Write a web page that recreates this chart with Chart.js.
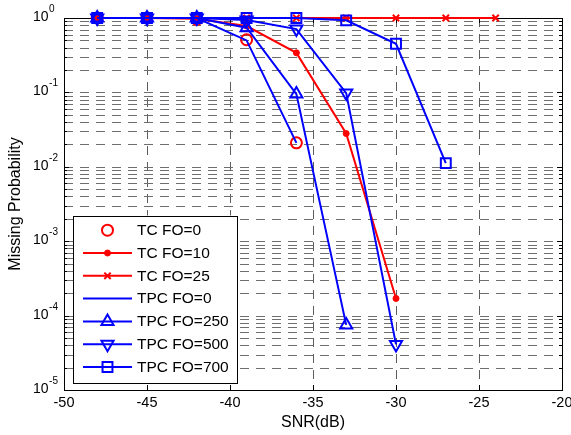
<!DOCTYPE html>
<html>
<head>
<meta charset="utf-8">
<script src="https://cdn.jsdelivr.net/npm/chart.js@4/dist/chart.umd.min.js"></script>
<style>
  html, body { margin: 0; padding: 0; background: #ffffff; }
  #wrap { width: 571px; height: 435px; }
</style>
</head>
<body>
<div id="wrap"><canvas id="c" width="571" height="435"></canvas></div>
<script>
// ---- data ----
const snr = [-48, -45, -42, -39, -36, -33, -30, -27, -24];
const tcFo0    = [1, 1, 0.96, 0.51, 0.021];
const tcFo10   = [1, 1, 0.98, 0.78, 0.34, 0.028, 0.00017];
const tcFo25   = [1, 1, 1, 1, 1, 1, 1, 1, 1];
const tpcFo0   = [1, 1, 1, 0.5, 0.021];
const tpcFo250 = [1, 1, 1, 0.74, 0.095, 0.000075];
const tpcFo500 = [1, 1, 1, 0.94, 0.71, 0.098, 0.000041];
const tpcFo700 = [1, 1, 1, 1, 1, 0.93, 0.45, 0.0112];

const seriesNames = ['TC FO=0', 'TC FO=10', 'TC FO=25', 'TPC FO=0', 'TPC FO=250', 'TPC FO=500', 'TPC FO=700'];
const xTickValues = [-50, -45, -40, -35, -30, -25, -20];
const yExponents = [0, -1, -2, -3, -4, -5];
const yMinorFactors = [2, 3, 4, 5, 6, 7, 8, 9];
const xTitle = 'SNR(dB)';
const yTitle = 'Missing Probability';

const RED = '#ff0000', BLUE = '#0000ff';
const FONT = 'Arial, "Liberation Sans", Helvetica, sans-serif';

function pts(vals) { return vals.map((v, i) => ({ x: snr[i], y: v })); }

const styles = [
  { color: RED,  line: false, pointStyle: 'circle',   r: 5.5, fill: false, bw: 2 },
  { color: RED,  line: true,  pointStyle: 'circle',   r: 3,   fill: true,  bw: 1 },
  { color: RED,  line: true,  pointStyle: 'crossRot', r: 4.5, fill: false, bw: 2 },
  { color: BLUE, line: true,  pointStyle: false,      r: 0,   fill: false, bw: 2 },
  { color: BLUE, line: true,  pointStyle: 'triangle', r: 7,   fill: false, bw: 2, rot: 0 },
  { color: BLUE, line: true,  pointStyle: 'triangle', r: 7,   fill: false, bw: 2, rot: 180 },
  { color: BLUE, line: true,  pointStyle: 'rect',     r: 7,   fill: false, bw: 2 }
];
const seriesData = [tcFo0, tcFo10, tcFo25, tpcFo0, tpcFo250, tpcFo500, tpcFo700];

const datasets = seriesData.map((vals, i) => {
  const s = styles[i];
  return {
    label: seriesNames[i],
    data: pts(vals),
    borderColor: s.color,
    backgroundColor: s.fill ? s.color : 'rgba(0,0,0,0)',
    borderWidth: 2,
    showLine: s.line,
    pointStyle: s.pointStyle,
    pointRadius: s.r,
    pointHoverRadius: s.r,
    pointBorderWidth: s.bw,
    pointBorderColor: s.color,
    pointBackgroundColor: s.fill ? s.color : 'rgba(0,0,0,0)',
    pointRotation: s.rot || 0,
    tension: 0,
    clip: false,
    order: 10 - i
  };
});

// y ticks: 1..9 x 10^e
const yTickValues = [];
yExponents.slice().reverse().forEach(e => {
  if (e === 0) { yTickValues.push(1); return; }
  yTickValues.push(Math.pow(10, e));
  yMinorFactors.forEach(f => yTickValues.push(f * Math.pow(10, e)));
});

const matlabAxes = {
  id: 'matlabAxes',
  beforeDatasetsDraw(chart) {
    const { ctx, chartArea: a, scales: { x, y } } = chart;
    ctx.save();
    // vertical grid
    ctx.setLineDash([9, 7]);
    ctx.lineWidth = 0.8;
    ctx.strokeStyle = '#333333';
    xTickValues.forEach(v => {
      const px = Math.round(x.getPixelForValue(v)) + 0.5;
      if (px <= a.left + 1 || px >= a.right - 1) return;
      ctx.beginPath(); ctx.moveTo(px, a.top); ctx.lineTo(px, a.bottom); ctx.stroke();
    });
    // horizontal grid
    ctx.lineWidth = 1;
    ctx.strokeStyle = '#6e6e6e';
    yTickValues.forEach(v => {
      const py = Math.round(y.getPixelForValue(v)) + 0.5;
      if (py <= a.top + 1 || py >= a.bottom - 1) return;
      ctx.beginPath(); ctx.moveTo(a.left, py); ctx.lineTo(a.right, py); ctx.stroke();
    });
    ctx.setLineDash([]);
    // box
    ctx.strokeStyle = '#000000';
    ctx.lineWidth = 1;
    ctx.strokeRect(Math.round(a.left) + 0.5, Math.round(a.top) + 0.5,
                   Math.round(a.right) - Math.round(a.left), Math.round(a.bottom) - Math.round(a.top));
    // tick marks (inside)
    ctx.beginPath();
    xTickValues.forEach(v => {
      const px = Math.round(x.getPixelForValue(v)) + 0.5;
      ctx.moveTo(px, a.bottom); ctx.lineTo(px, a.bottom - 5);
      ctx.moveTo(px, a.top); ctx.lineTo(px, a.top + 5);
    });
    yTickValues.forEach(v => {
      const py = Math.round(y.getPixelForValue(v)) + 0.5;
      const major = Math.abs(Math.log10(v) - Math.round(Math.log10(v))) < 1e-9;
      const len = major ? 5 : 3;
      ctx.moveTo(a.left, py); ctx.lineTo(a.left + len, py);
      ctx.moveTo(a.right, py); ctx.lineTo(a.right - len, py);
    });
    ctx.stroke();
    // y tick labels: 10^e
    ctx.fillStyle = '#000000';
    ctx.textBaseline = 'alphabetic';
    ctx.textAlign = 'left';
    yExponents.forEach(e => {
      const py = y.getPixelForValue(Math.pow(10, e));
      ctx.font = '14px ' + FONT;
      const baseX = 33;
      ctx.fillText('10', baseX, py + 3);
      const w = ctx.measureText('10').width;
      ctx.font = '10px ' + FONT;
      ctx.fillText(String(e), baseX + w + 0.5, py - 6);
    });
    ctx.restore();
  },
  afterDatasetsDraw(chart) {
    const { ctx, chartArea: a } = chart;
    ctx.save();
    const left = a.left + 9, right = a.left + 173;
    const top = a.top + 197.5, bottom = a.bottom - 7.5;
    ctx.fillStyle = '#ffffff';
    ctx.fillRect(left, top, right - left, bottom - top);
    ctx.strokeStyle = '#000000';
    ctx.lineWidth = 1;
    ctx.strokeRect(Math.round(left) + 0.5, Math.round(top) + 0.5, Math.round(right - left), Math.round(bottom - top));
    const rowH = 22.8;
    const firstY = top + 14.7;
    const x0 = left + 10, x1 = left + 59, xm = (x0 + x1) / 2, tx = left + 64;
    chart.data.datasets.forEach((ds, i) => {
      const yy = firstY + i * rowH;
      if (ds.showLine) {
        ctx.strokeStyle = ds.borderColor;
        ctx.lineWidth = 2;
        ctx.beginPath(); ctx.moveTo(x0, yy); ctx.lineTo(x1, yy); ctx.stroke();
      }
      if (ds.pointStyle) {
        ctx.strokeStyle = ds.pointBorderColor;
        ctx.fillStyle = ds.pointBackgroundColor;
        ctx.lineWidth = ds.pointBorderWidth;
        Chart.helpers.drawPoint(ctx, { pointStyle: ds.pointStyle, rotation: ds.pointRotation, radius: ds.pointRadius, borderWidth: ds.pointBorderWidth }, xm, yy);
      }
      ctx.fillStyle = '#000000';
      ctx.font = '15.5px ' + FONT;
      ctx.textBaseline = 'middle';
      ctx.textAlign = 'left';
      ctx.fillText(ds.label, tx, yy + 0.5);
    });
    ctx.restore();
  }
};

new Chart(document.getElementById('c'), {
  type: 'scatter',
  data: { datasets },
  options: {
    responsive: false,
    animation: false,
    devicePixelRatio: 1,
    layout: { padding: { left: 0, top: 18, right: 8, bottom: 0 } },
    plugins: { legend: { display: false }, tooltip: { enabled: false } },
    scales: {
      x: {
        type: 'linear',
        min: -50, max: -20,
        afterBuildTicks: (s) => { s.ticks = xTickValues.map(v => ({ value: v })); },
        afterFit: (s) => { s.height = 45; s.paddingLeft = 0; s.paddingRight = 0; },
        grid: { display: false, drawTicks: false },
        border: { display: false },
        ticks: { color: '#000', font: { family: FONT, size: 14.5 }, padding: 4, maxRotation: 0, autoSkip: false,
                 callback: (v) => String(v) },
        title: { display: true, text: xTitle, color: '#000', font: { family: FONT, size: 16 }, padding: { top: 0, bottom: 2.5 } }
      },
      y: {
        type: 'logarithmic',
        min: 1e-5, max: 1,
        afterBuildTicks: (s) => { s.ticks = yTickValues.map(v => ({ value: v })); },
        afterFit: (s) => { s.width = 64; s.paddingTop = 0; s.paddingBottom = 0; },
        grid: { display: false, drawTicks: false },
        border: { display: false },
        ticks: { display: false },
        title: { display: true, text: yTitle, color: '#000', font: { family: FONT, size: 16 }, padding: { top: 5.5, bottom: 0 } }
      }
    }
  },
  plugins: [matlabAxes]
});
</script>
</body>
</html>
